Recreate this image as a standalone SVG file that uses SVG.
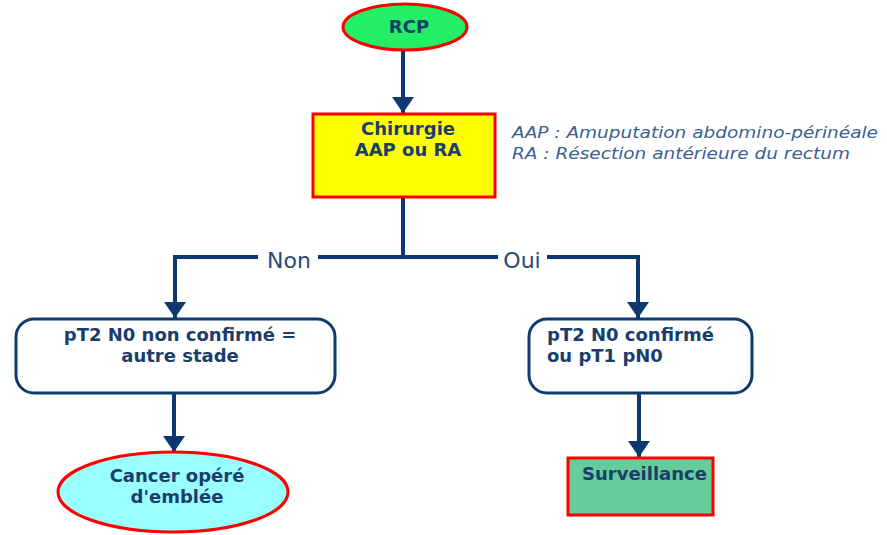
<svg xmlns="http://www.w3.org/2000/svg" width="887" height="535" viewBox="0 0 887 535">
  <style>
    .lbl { font-family: "DejaVu Sans", Verdana, sans-serif; font-size: 18px; font-weight: bold; fill: #1b3d6c; }
    .mid { text-anchor: middle; }
    .branch { font-family: "DejaVu Sans", Verdana, sans-serif; font-size: 22px; fill: #2a4a78; text-anchor: middle; }
    .note { font-family: "DejaVu Sans", Verdana, sans-serif; font-size: 15px; font-style: italic; fill: #3d5f92; }
    .red { stroke: #ff0000; stroke-width: 3; }
    .round { fill: #ffffff; stroke: #0f3a6e; stroke-width: 3; }
    .wire { fill: none; stroke: #0d3870; stroke-width: 4; }
  </style>
  <defs>
    <marker id="head" viewBox="0 0 16 22" refX="16" refY="11" markerWidth="16" markerHeight="22" markerUnits="userSpaceOnUse" orient="auto">
      <path d="M0,0 L16,11 L0,22 z" fill="#0d3870"/>
    </marker>
  </defs>

  <rect width="887" height="535" fill="#ffffff"/>

  <g id="connectors">
    <path class="wire" d="M403,51 V113" marker-end="url(#head)"/>
    <path class="wire" d="M403,197 V257"/>
    <path class="wire" d="M258,257 H175 V318" marker-end="url(#head)"/>
    <path class="wire" d="M318,257 H498"/>
    <path class="wire" d="M547,257 H638 V318" marker-end="url(#head)"/>
    <path class="wire" d="M174,393 V452" marker-end="url(#head)"/>
    <path class="wire" d="M639,393 V457" marker-end="url(#head)"/>
    <text class="branch" x="289" y="268">Non</text>
    <text class="branch" x="522" y="268">Oui</text>
  </g>

  <g id="rcp">
    <ellipse class="red" cx="405" cy="27" rx="62" ry="23" fill="#22ee66"/>
    <text class="lbl mid" x="409" y="33">RCP</text>
  </g>

  <g id="chirurgie">
    <rect class="red" x="313" y="114" width="182" height="83" fill="#ffff00"/>
    <text class="lbl mid" x="408" y="135">Chirurgie</text>
    <text class="lbl mid" x="408" y="156">AAP ou RA</text>
  </g>

  <g id="legende">
    <text class="note" x="512" y="138" textLength="366" lengthAdjust="spacingAndGlyphs">AAP : Amuputation abdomino-périnéale</text>
    <text class="note" x="512" y="159" textLength="338" lengthAdjust="spacingAndGlyphs">RA : Résection antérieure du rectum</text>
  </g>

  <g id="non-confirme">
    <rect class="round" x="16" y="319" width="319" height="74" rx="18" ry="18"/>
    <text class="lbl mid" x="180" y="341">pT2 N0 non confirmé =</text>
    <text class="lbl mid" x="180" y="362">autre stade</text>
  </g>

  <g id="confirme">
    <rect class="round" x="529" y="319" width="223" height="74" rx="18" ry="18"/>
    <text class="lbl" x="547" y="341">pT2 N0 confirmé</text>
    <text class="lbl" x="547" y="362">ou pT1 pN0</text>
  </g>

  <g id="cancer-opere">
    <ellipse class="red" cx="173" cy="492" rx="115" ry="40" fill="#99ffff"/>
    <text class="lbl mid" x="177" y="482">Cancer opéré</text>
    <text class="lbl mid" x="177" y="503">d'emblée</text>
  </g>

  <g id="surveillance">
    <rect class="red" x="568" y="458" width="145" height="57" fill="#66cc99"/>
    <text class="lbl" x="582" y="480">Surveillance</text>
  </g>
</svg>
